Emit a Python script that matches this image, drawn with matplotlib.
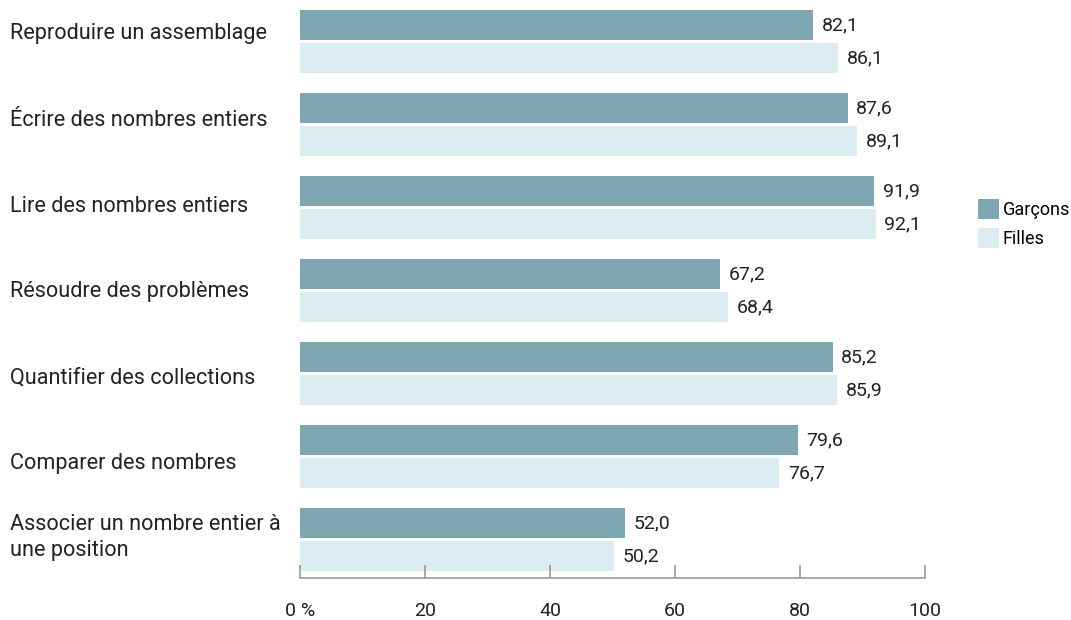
import numpy as np
import matplotlib
matplotlib.use("Agg")
from matplotlib import pyplot as plt
from matplotlib import transforms

categories = [
    "Reproduire un assemblage",
    "Écrire des nombres entiers",
    "Lire des nombres entiers",
    "Résoudre des problèmes",
    "Quantifier des collections",
    "Comparer des nombres",
    "Associer un nombre entier à\nune position",
]
garcons = [82.1, 87.6, 91.9, 67.2, 85.2, 79.6, 52.0]
filles = [86.1, 89.1, 92.1, 68.4, 85.9, 76.7, 50.2]
xticks = [0, 20, 40, 60, 80, 100]
xticklabels = ["0 %", "20", "40", "60", "80", "100"]

plt.rcParams['font.family'] = ['Roboto', 'DejaVu Sans']

col_g = "#7fa7b1"
col_f = "#dcedf1"
txt = "#222222"

W, H = 1071, 620
fig = plt.figure(figsize=(W/100, H/100), dpi=100)
# axes: x from 300px to 925px, y from 5px to 578px
ax = fig.add_axes([300/W, 1 - 578/H, 625/W, 573/H])

y = np.arange(len(categories))
step = 83.0  # px per group
off = 16.5/step
h = 30/step
ax.barh(y - off, garcons, height=h, color=col_g, label="Garçons")
ax.barh(y + off, filles, height=h, color=col_f, label="Filles")

for yi, v in zip(y - off, garcons):
    ax.text(v + 1.4, yi, f"{v:.1f}".replace(".", ","), va="center", ha="left",
            fontsize=14, color=txt)
for yi, v in zip(y + off, filles):
    ax.text(v + 1.4, yi, f"{v:.1f}".replace(".", ","), va="center", ha="left",
            fontsize=14, color=txt)

# category labels at left edge of figure (the reference spaces them a bit wider than the bars)
trans = transforms.blended_transform_factory(fig.transFigure, ax.transData)
for i, c in enumerate(categories):
    if "\n" in c:
        ypx = 41.5 + step*i - 2
    else:
        ypx = 34 + 86*i
    ax.text(10/W, (ypx - 41.5)/step, c, transform=trans, ha="left", va="center",
            fontsize=15.6, color=txt, linespacing=1.35)

ax.set_xlim(0, 100)
ax.set_ylim((578 - 41.5)/step, (5 - 41.5)/step)

for s in ["top", "right", "left"]:
    ax.spines[s].set_visible(False)
ax.spines["bottom"].set_color("#999999")
ax.spines["bottom"].set_linewidth(1.2)
ax.set_yticks([])
ax.set_xticks(xticks)
ax.set_xticklabels(xticklabels)
ax.tick_params(axis="x", direction="in", length=9.5, width=1.2, color="#999999",
               labelsize=14, labelcolor=txt, pad=17.5)

leg = fig.legend(loc="upper left", bbox_to_anchor=(978/W, 1 - 199/H), frameon=False,
                 fontsize=13, handlelength=1.15, handleheight=1.3, handletextpad=0.2,
                 labelspacing=0.5, borderaxespad=0, borderpad=0)

fig.savefig("out.png", dpi=100)
